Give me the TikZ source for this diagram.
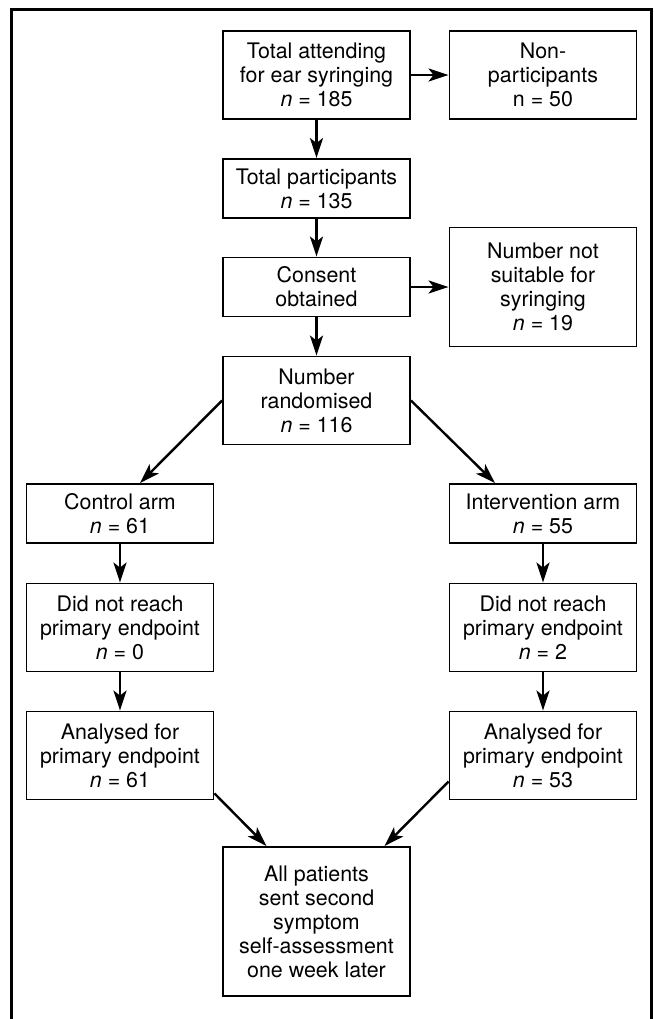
\documentclass[tikz,border=0pt]{standalone}
\usepackage{fontspec}
\setmainfont{TeX Gyre Heros}
\usetikzlibrary{arrows.meta}
\usetikzlibrary{calc}

\begin{document}
\begin{tikzpicture}[->,>={Stealth[length=10pt,width=6.5pt,inset=2.5pt]},line width=1.2pt,
        block/.style={rectangle,draw=black,line width=0.95pt,minimum width=93.5pt,align=center,inner sep=2pt,font=\fontsize{10.7}{12}\selectfont}]
        \useasboundingbox (-158.25pt,37.5pt) rectangle (168.75pt,-472pt);
        \draw[-,line width=1.5pt] (-152.25pt,-480pt) rectangle (167.25pt,33pt);
        \node[block,minimum height=44pt]   (A) {Total attending\\for ear syringing\\\textit{n} = 185};
        \node[block,minimum height=44pt]   (B) [right of=A,node distance=113.25pt] {Non-\\participants\\n = 50};
        \node[block,minimum height=29.5pt] (C) [below of=A,node distance=56.75pt] {Total participants\\\textit{n} = 135};
        \node[block,minimum height=29.5pt] (D) [below of=C,node distance=49.25pt] {Consent\\obtained};
        \node[block,minimum height=59.5pt] (E) [right of=D,node distance=113.25pt] {Number not\\suitable for\\syringing\\\textit{n} = 19};
        \node[block,minimum height=44pt]   (F) [below of=D,node distance=56.75pt] {Number\\randomised\\\textit{n} = 116};
        \node[block,minimum height=29.5pt] (G) [below of=F,node distance=56.5pt,xshift=-98.25pt] {Control arm\\\textit{n} = 61};
        \node[block,minimum height=29.5pt] (H) [below of=F,node distance=56.5pt,xshift=113.25pt] {Intervention arm\\\textit{n} = 55};
        \node[block,minimum height=44pt]   (I) [below of=G,node distance=57pt] {Did not reach\\primary endpoint\\\textit{n} = 0};
        \node[block,minimum height=44pt]   (J) [below of=H,node distance=57pt] {Did not reach\\primary endpoint\\\textit{n} = 2};
        \node[block,minimum height=44pt]   (K) [below of=I,node distance=64pt] {Analysed for\\primary endpoint\\\textit{n} = 61};
        \node[block,minimum height=44pt]   (L) [below of=J,node distance=64pt] {Analysed for\\primary endpoint\\\textit{n} = 53};
        \node[block,minimum height=74.5pt] (M) [below of=K,node distance=83pt,xshift=98.25pt] {All patients\\sent second\\symptom\\self-assessment\\one week later};
        \path
          (A) edge (B)
          (A) edge (C)
          (C) edge (D)
          (D) edge (E)
          (D) edge (F)
          (F.west) edge ([xshift=10pt]G.north)
          (F.east) edge ([xshift=-24pt]H.north)
          (G) edge (I)
          (H) edge (J)
          (I) edge (K)
          (J) edge (L)
          ([yshift=3.5pt]K.south east) edge ([xshift=-25pt]M.north)
          ([yshift=-13pt]L.west) edge ([xshift=34pt]M.north)
          ;
      \end{tikzpicture}
\end{document}
